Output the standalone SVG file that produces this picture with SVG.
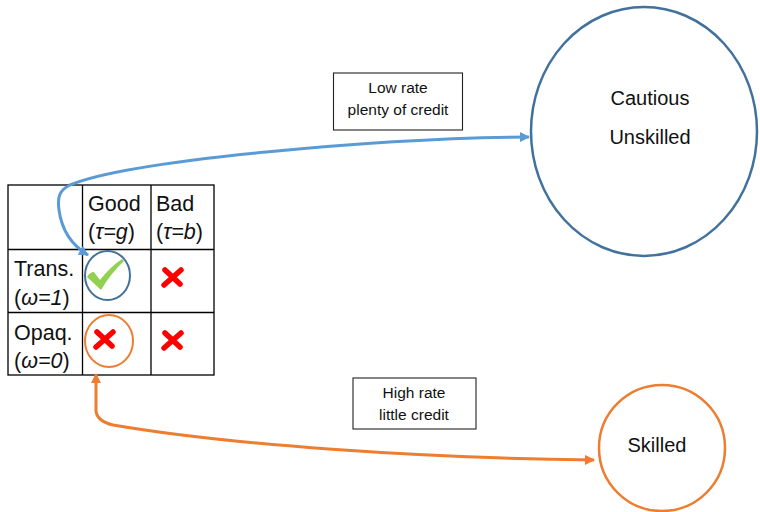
<svg xmlns="http://www.w3.org/2000/svg" width="760" height="512" viewBox="0 0 760 512">
<defs>
<style>
text{font-family:"Liberation Sans","Noto Sans",Arial,sans-serif;fill:#111;}
.big{font-size:21.5px;}
.mid{font-size:20px;text-anchor:middle;}
.lbl{font-size:15.5px;text-anchor:middle;}
.grid{fill:none;stroke:#000;stroke-width:1.3;}
.box{fill:#fff;stroke:#222;stroke-width:1.1;}
.cross{fill:none;stroke:#ff0000;stroke-width:5.5;stroke-linecap:round;}
.blue{fill:none;stroke:#5B9BD5;stroke-width:3;}
.orange{fill:none;stroke:#ED7D31;stroke-width:3;}
</style>
<marker id="ab" viewBox="0 0 10 10" refX="9" refY="5" markerWidth="12" markerHeight="10" markerUnits="userSpaceOnUse" orient="auto-start-reverse"><path d="M0,0 L10,5 L0,10 z" fill="#5B9BD5"/></marker>
<marker id="ao" viewBox="0 0 10 10" refX="9" refY="5" markerWidth="12" markerHeight="10" markerUnits="userSpaceOnUse" orient="auto-start-reverse"><path d="M0,0 L10,5 L0,10 z" fill="#ED7D31"/></marker>
</defs>

<g id="table">
<rect class="grid" x="8" y="185" width="206" height="190"/>
<line class="grid" x1="82.5" y1="185" x2="82.5" y2="375"/>
<line class="grid" x1="151" y1="185" x2="151" y2="375"/>
<line class="grid" x1="8" y1="249.5" x2="214" y2="249.5"/>
<line class="grid" x1="8" y1="312.5" x2="214" y2="312.5"/>
<text class="big" x="88" y="211">Good</text>
<text class="big" x="88" y="239">(<tspan font-style="italic">τ=g</tspan>)</text>
<text class="big" x="156" y="211">Bad</text>
<text class="big" x="156" y="239">(<tspan font-style="italic">τ=b</tspan>)</text>
<text class="big" x="14" y="276">Trans.</text>
<text class="big" x="14" y="305">(<tspan font-style="italic">ω=1</tspan>)</text>
<text class="big" x="14" y="340">Opaq.</text>
<text class="big" x="14" y="368">(<tspan font-style="italic">ω=0</tspan>)</text>
</g>

<g id="good-transparent">
<ellipse cx="107.5" cy="275.5" rx="22.5" ry="24.5" fill="none" stroke="#41719C" stroke-width="2"/>
<path d="M87,277 Q90,272 94,272 L100,280 Q110,267 122,259 L124,261 Q111,273 101,290 Z" fill="#92D050"/>
</g>

<g id="bad-transparent">
<path class="cross" d="M165,270 L180,284 M181,270 L164,285"/>
</g>

<g id="good-opaque">
<ellipse cx="109" cy="341" rx="24" ry="26" fill="none" stroke="#ED7D31" stroke-width="2"/>
<path class="cross" d="M97,332 L112,346 M113,332 L96,347"/>
</g>

<g id="bad-opaque">
<path class="cross" d="M165,333 L180,347 M181,333 L164,348"/>
</g>

<g id="cautious-unskilled">
<ellipse cx="644" cy="131.5" rx="113" ry="124.5" fill="#fff" stroke="#41719C" stroke-width="2.5"/>
<text class="mid" x="650" y="105">Cautious</text>
<text class="mid" x="650" y="144">Unskilled</text>
</g>

<g id="skilled">
<circle cx="662" cy="448" r="63" fill="#fff" stroke="#ED7D31" stroke-width="2.5"/>
<text class="mid" x="657" y="452">Skilled</text>
</g>

<g id="label-low">
<rect class="box" x="333.5" y="73" width="129" height="57"/>
<text class="lbl" x="398" y="93">Low rate</text>
<text class="lbl" x="398" y="115">plenty of credit</text>
</g>

<g id="label-high">
<rect class="box" x="353" y="378" width="123" height="51"/>
<text class="lbl" x="414" y="398">High rate</text>
<text class="lbl" x="414" y="420">little credit</text>
</g>

<g id="connectors">
<path class="blue" marker-start="url(#ab)" marker-end="url(#ab)" d="M88,255 C73,246 62,232 59,210 C57,196 60,190 70,185 C130,160 380,138 529,137"/>
<path class="orange" marker-start="url(#ao)" marker-end="url(#ao)" d="M96,374 L96,411 Q97,421 113,425 C230,445 420,458 594,460"/>
</g>
</svg>
